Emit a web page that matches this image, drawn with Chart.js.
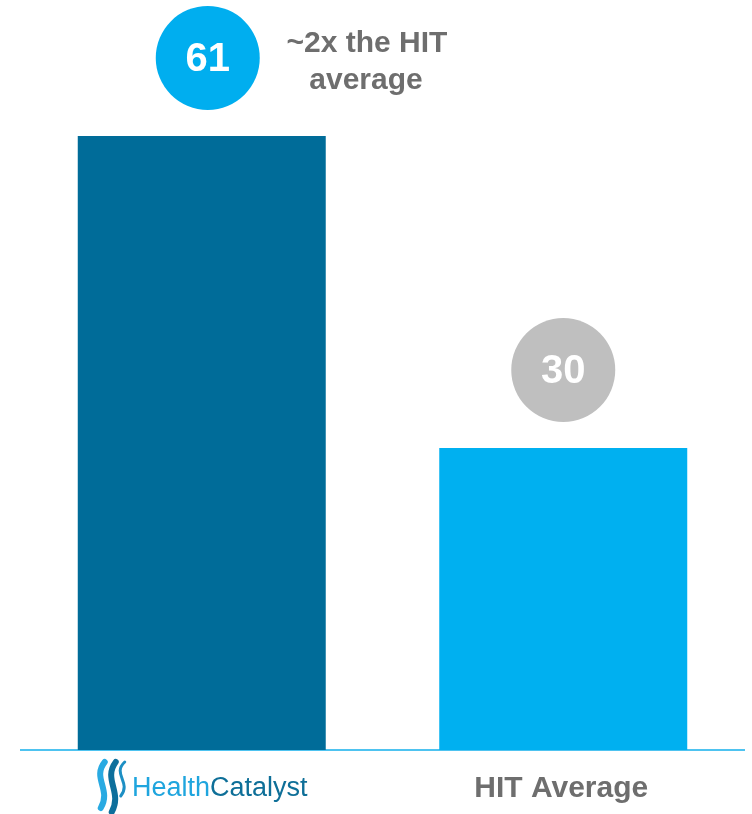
<!DOCTYPE html>
<html>
<head>
<meta charset="utf-8">
<script src="https://cdn.jsdelivr.net/npm/chart.js@4/dist/chart.umd.min.js"></script>
<style>
  html, body { margin: 0; padding: 0; background: #fff; }
  #wrap { width: 752px; height: 814px; }
</style>
</head>
<body>
<div id="wrap"><canvas id="chart" width="752" height="814"></canvas></div>
<script>
const categories = ['HealthCatalyst', 'HIT Average']
const values = [61, 30]
const barColors = ['#006c99', '#00b0f0']
const badgeColors = ['#00aeef', '#bfbfbf']
const noteLines = ['~2x the HIT', 'average']

const gray = '#6e6e6e'

// flame mark of the logo: S-shaped swooshes
function drawFlame(ctx, x, y) {
    ctx.save()
    ctx.translate(x, y)
    ctx.lineCap = 'round'
    const swoosh = (dx, color, lw, h) => {
        ctx.beginPath()
        ctx.moveTo(dx + 7, 0)
        ctx.bezierCurveTo(dx - 6, h * 0.35, dx + 14, h * 0.6, dx + 3, h)
        ctx.strokeStyle = color
        ctx.lineWidth = lw
        ctx.stroke()
    }
    swoosh(13, '#0d6f9c', 6, 50)
    swoosh(2, '#29aae2', 6, 46)
    swoosh(22, '#1d8fc4', 3, 34)
    ctx.restore()
}

const labelsPlugin = {
    id: 'labels',
    afterDatasetsDraw(chart) {
        const ctx = chart.ctx
        const xs = chart.scales.x
        const bars = chart.getDatasetMeta(0).data

        // value badges above bars
        bars.forEach((bar, i) => {
            const cx = bar.x + (i === 0 ? 6 : 0)
            const cy = bar.y - 78
            ctx.beginPath()
            ctx.arc(cx, cy, 52, 0, Math.PI * 2)
            ctx.fillStyle = badgeColors[i]
            ctx.fill()
            ctx.fillStyle = '#fff'
            ctx.font = 'bold 40px "Liberation Sans", Arial, sans-serif'
            ctx.textAlign = 'center'
            ctx.textBaseline = 'middle'
            ctx.fillText(String(values[i]), cx, cy + 2)
        })

        // note next to first badge
        ctx.fillStyle = gray
        ctx.font = 'bold 30px "Liberation Sans", Arial, sans-serif'
        ctx.textAlign = 'center'
        ctx.textBaseline = 'middle'
        ctx.fillText(noteLines[0], 367, 44)
        ctx.fillText(noteLines[1], 366, 81)

        // category labels
        const x0 = xs.getPixelForValue(0)
        drawFlame(ctx, x0 - 106, 762)
        ctx.textAlign = 'left'
        ctx.textBaseline = 'alphabetic'
        ctx.font = '27px "Liberation Sans", Arial, sans-serif'
        const w1 = ctx.measureText('Health').width
        ctx.fillStyle = '#1fa5de'
        ctx.fillText('Health', 132, 796)
        ctx.fillStyle = '#0e6f98'
        ctx.fillText('Catalyst', 132 + w1, 796)

        const x1 = xs.getPixelForValue(1)
        ctx.fillStyle = gray
        ctx.font = 'bold 30px "Liberation Sans", Arial, sans-serif'
        ctx.textAlign = 'center'
        ctx.fillText(categories[1], x1 - 2, 797)
    },
}

new Chart('chart', {
    type: 'bar',
    data: {
        labels: categories,
        datasets: [
            {
                data: values,
                backgroundColor: barColors,
                borderWidth: 0,
                barPercentage: 0.686,
                categoryPercentage: 1,
            },
        ],
    },
    options: {
        responsive: false,
        animation: false,
        layout: { padding: { left: 21, right: 8, top: 0, bottom: 56 } },
        plugins: {
            legend: { display: false },
            tooltip: { enabled: false },
        },
        scales: {
            y: { display: false, min: 0, max: 74.5 },
            x: {
                grid: { display: false },
                ticks: { display: false },
                border: { display: true, color: '#4ec3f0', width: 2 },
            },
        },
    },
    plugins: [labelsPlugin],
})
</script>
</body>
</html>
